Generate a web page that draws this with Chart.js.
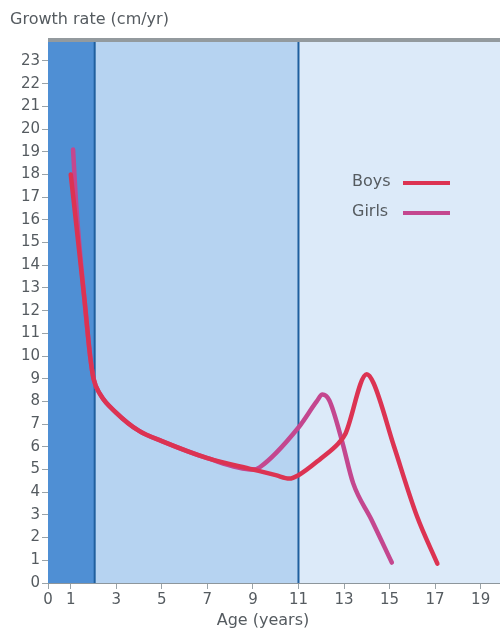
<!DOCTYPE html>
<html>
<head>
<meta charset="utf-8">
<script src="https://cdn.jsdelivr.net/npm/chart.js@4/dist/chart.umd.min.js"></script>
<style>
  html, body { margin: 0; padding: 0; background: #fff; }
  #wrap { width: 500px; height: 633px; position: relative; }
</style>
</head>
<body>
<div id="wrap"><canvas id="chart"></canvas></div>
<script>
const boysAge = [1, 1.6, 1.85, 2, 2.3, 3, 4, 5, 7, 9, 10, 10.6, 11, 12, 12.75, 13.05, 14, 14.3, 15.2, 16.2, 17.1];
const boysRate = [18, 12.5, 10, 9, 8.3, 7.5, 6.7, 6.25, 5.5, 5.0, 4.75, 4.6, 4.75, 5.5, 6.15, 6.55, 9.2, 8.8, 6.0, 2.95, 0.85];

const girlsAge = [1.1, 1.25, 1.6, 1.85, 2, 2.3, 3, 4, 5, 7, 9, 9.3, 11, 11.8, 12.05, 12.35, 12.9, 13.4, 14.2, 15.1];
const girlsRate = [19.1, 16.5, 12.5, 10, 9, 8.3, 7.5, 6.7, 6.25, 5.5, 5.0, 5.1, 6.85, 8.0, 8.3, 8.05, 6.3, 4.4, 2.8, 0.9];

const ageTicks = [0, 1, 3, 5, 7, 9, 11, 13, 15, 17, 19];
const rateTicks = [0, 1, 2, 3, 4, 5, 6, 7, 8, 9, 10, 11, 12, 13, 14, 15, 16, 17, 18, 19, 20, 21, 22, 23];
const stageBreaks = [2.05, 11];

const textColor = '#555b60';
const fontFamily = '"DejaVu Sans", "Liberation Sans", sans-serif';

function toPoints(xs, ys) {
  return xs.map((x, i) => ({ x: x, y: ys[i] }));
}

// shaded growth stages behind the curves
const stageBands = {
  id: 'stageBands',
  beforeDatasetsDraw(chart) {
    const { ctx, chartArea: a, scales: { x } } = chart;
    const b1 = x.getPixelForValue(stageBreaks[0]);
    const b2 = x.getPixelForValue(stageBreaks[1]);
    ctx.save();
    ctx.fillStyle = '#4f8fd4';
    ctx.fillRect(a.left, a.top, b1 - a.left, a.bottom - a.top);
    ctx.fillStyle = '#b6d3f1';
    ctx.fillRect(b1, a.top, b2 - b1, a.bottom - a.top);
    ctx.fillStyle = '#dceaf9';
    ctx.fillRect(b2, a.top, a.right - b2, a.bottom - a.top);
    ctx.strokeStyle = '#1f5f9e';
    ctx.lineWidth = 2;
    [b1, b2].forEach((px) => {
      ctx.beginPath();
      ctx.moveTo(px, a.top);
      ctx.lineTo(px, a.bottom);
      ctx.stroke();
    });
    ctx.fillStyle = '#939a9e';
    ctx.fillRect(a.left, a.top - 3, a.right - a.left, 4);
    ctx.restore();
  }
};

const labelsAndKey = {
  id: 'labelsAndKey',
  afterDraw(chart) {
    const { ctx } = chart;
    ctx.save();
    ctx.fillStyle = textColor;
    ctx.textBaseline = 'middle';
    ctx.font = '16px ' + fontFamily;
    ctx.textAlign = 'left';
    ctx.fillText('Growth rate (cm/yr)', 10, 20);
    ctx.textAlign = 'center';
    ctx.fillText('Age (years)', 263, 621);

    const key = [
      { label: 'Boys', color: chart.data.datasets[0].borderColor, y: 182 },
      { label: 'Girls', color: chart.data.datasets[1].borderColor, y: 212 }
    ];
    key.forEach((k) => {
      ctx.fillStyle = textColor;
      ctx.textAlign = 'left';
      ctx.fillText(k.label, 352, k.y);
      ctx.strokeStyle = k.color;
      ctx.lineWidth = 4;
      ctx.beginPath();
      ctx.moveTo(403, k.y + 1);
      ctx.lineTo(450, k.y + 1);
      ctx.stroke();
    });
    ctx.restore();
  }
};

Chart.defaults.font.family = fontFamily;
Chart.defaults.color = textColor;

new Chart(document.getElementById('chart'), {
  type: 'line',
  data: {
    datasets: [
      {
        label: 'Boys',
        data: toPoints(boysAge, boysRate),
        borderColor: '#dc3352',
        borderWidth: 4.5,
        pointRadius: 0,
        cubicInterpolationMode: 'monotone',
        borderCapStyle: 'round',
        borderJoinStyle: 'round'
      },
      {
        label: 'Girls',
        data: toPoints(girlsAge, girlsRate),
        borderColor: '#c4478f',
        borderWidth: 4.5,
        pointRadius: 0,
        cubicInterpolationMode: 'monotone',
        borderCapStyle: 'round',
        borderJoinStyle: 'round'
      }
    ]
  },
  options: {
    responsive: true,
    maintainAspectRatio: false,
    animation: false,
    layout: { padding: { top: 41, right: 0, left: 0, bottom: 0 } },
    plugins: {
      legend: { display: false },
      tooltip: { enabled: false }
    },
    scales: {
      x: {
        type: 'linear',
        min: 0,
        max: 19.85,
        afterBuildTicks: (scale) => {
          scale.ticks = ageTicks.map((v) => ({ value: v }));
        },
        afterFit: (scale) => { scale.height = 50; },
        ticks: { autoSkip: false, maxRotation: 0, padding: 2, font: { size: 15 }, color: textColor },
        grid: { drawOnChartArea: false, drawTicks: true, tickLength: 6, color: '#9aa3a8' },
        border: { color: '#8d969c', width: 1 }
      },
      y: {
        min: 0,
        max: 23.88,
        afterBuildTicks: (scale) => {
          scale.ticks = rateTicks.map((v) => ({ value: v }));
        },
        afterFit: (scale) => { scale.width = 48; },
        ticks: { autoSkip: false, padding: 2, font: { size: 15 }, color: textColor },
        grid: { drawOnChartArea: false, drawTicks: true, tickLength: 6, color: '#9aa3a8' },
        border: { display: false }
      }
    }
  },
  plugins: [stageBands, labelsAndKey]
});
</script>
</body>
</html>
